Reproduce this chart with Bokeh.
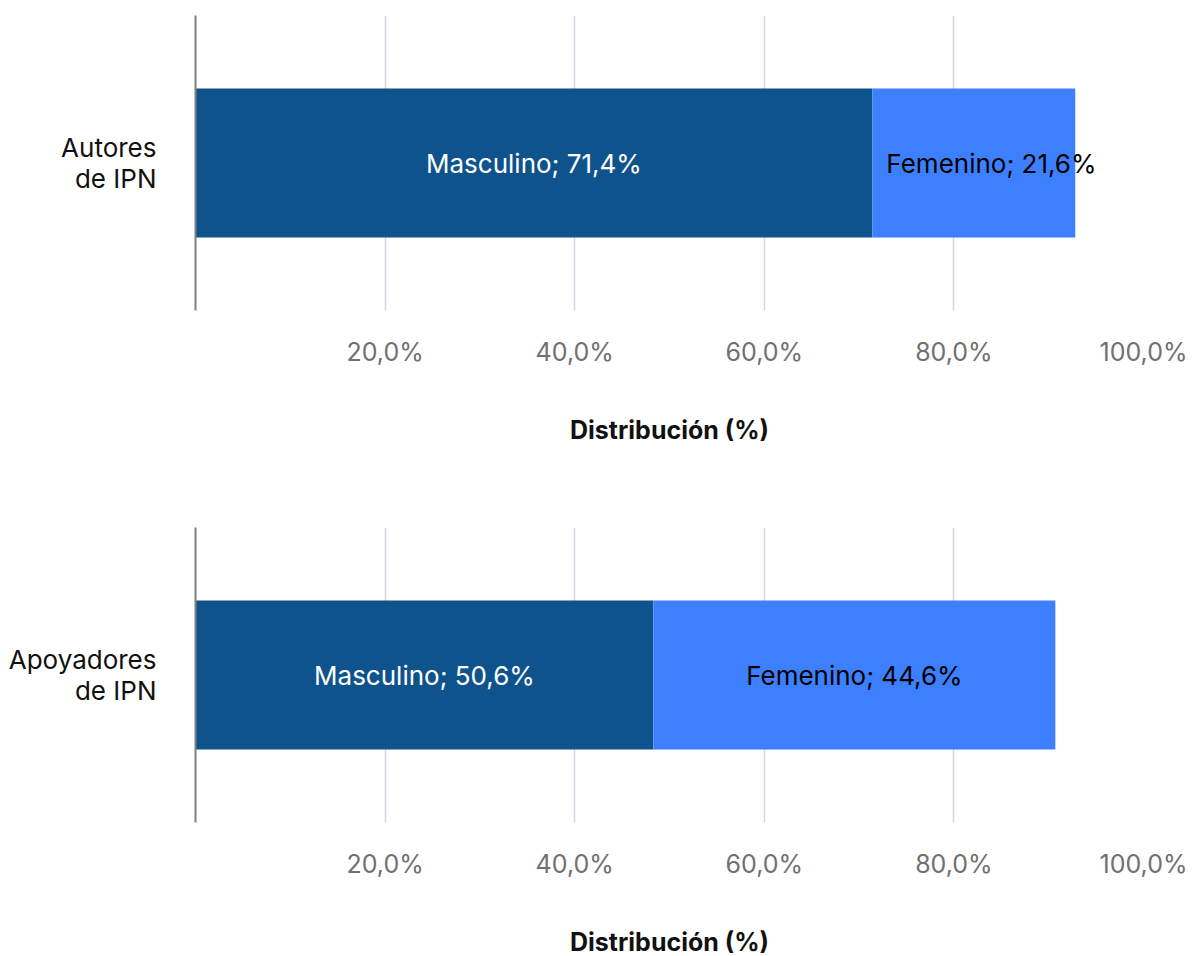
from bokeh.plotting import figure
from bokeh.layouts import column
from bokeh.models import ColumnDataSource, FixedTicker, FactorRange, Range1d
from bokeh.core.properties import value
from bokeh.embed import file_html
from bokeh.resources import INLINE

# ---- data ----
groups = ["Autores\nde IPN", "Apoyadores\nde IPN"]
masc_bar = [71.4, 48.3]          # bar lengths as drawn (%)
fem_bar = [21.4, 42.4]
masc_labels = ["Masculino; 71,4%", "Masculino; 50,6%"]
fem_labels = ["Femenino; 21,6%", "Femenino; 44,6%"]
tick_values = [20, 40, 60, 80, 100]
tick_labels = ["20,0%", "40,0%", "60,0%", "80,0%", "100,0%"]
axis_title = "Distribución (%)"

DARK = "#0F538C"
LIGHT = "#3D80FF"
FONT = "Inter"


def make_panel(i, height, title_standoff):
    g = groups[i]
    p = figure(
        width=1192, height=height,
        x_range=Range1d(0, 100), y_range=FactorRange(factors=[g]),
        output_backend="svg", toolbar_location=None,
        min_border_left=195, min_border_right=49, min_border_top=15,
        min_border_bottom=height - 15 - 295,
    )
    p.frame_height = 295
    p.frame_width = 948
    p.outline_line_color = None
    p.background_fill_color = "white"

    narrow = fem_bar[i] < 30
    src = ColumnDataSource(dict(
        y=[g], m0=[0], m1=[masc_bar[i]], f1=[masc_bar[i] + fem_bar[i]],
        mc=[masc_bar[i] / 2],
        fc=[masc_bar[i] if narrow else masc_bar[i] + fem_bar[i] / 2],
        ml=[masc_labels[i]], fl=[fem_labels[i]],
    ))
    p.hbar(y="y", left="m0", right="m1", height=0.505, source=src,
           fill_color=DARK, line_color=None)
    p.hbar(y="y", left="m1", right="f1", height=0.505, source=src,
           fill_color=LIGHT, line_color=None)
    p.text(x="mc", y="y", text="ml", source=src, text_color="white",
           text_font=value(FONT), text_font_size="26px",
           text_align="center", text_baseline="middle")
    p.text(x="fc", y="y", text="fl", source=src, text_color="black",
           text_font=value(FONT), text_font_size="26px",
           text_align="left" if narrow else "center",
           x_offset=14 if narrow else 0,
           text_baseline="middle")

    # x axis
    xa = p.xaxis[0]
    xa.ticker = FixedTicker(ticks=tick_values)
    xa.major_label_overrides = {v: t for v, t in zip(tick_values, tick_labels)}
    xa.axis_line_color = None
    xa.major_tick_line_color = None
    xa.minor_tick_line_color = None
    xa.major_tick_out = 0
    xa.major_label_standoff = 26
    xa.major_label_text_font = FONT
    xa.major_label_text_font_size = "25px"
    xa.major_label_text_color = "#707070"
    xa.axis_label = axis_title
    xa.axis_label_text_font = FONT
    xa.axis_label_text_font_style = "bold"
    xa.axis_label_text_font_size = "25px"
    xa.axis_label_text_color = "#111111"
    xa.axis_label_standoff = title_standoff

    # y axis
    ya = p.yaxis[0]
    ya.axis_line_color = "#808080"
    ya.axis_line_width = 2
    ya.major_tick_line_color = None
    ya.minor_tick_line_color = None
    ya.major_tick_out = 0
    ya.major_label_standoff = 39
    ya.major_label_text_font = FONT
    ya.major_label_text_font_size = "26px"
    ya.major_label_text_color = "#111111"
    ya.major_label_text_line_height = 1.0

    p.xgrid.grid_line_color = "#D3D6E3"
    p.xgrid.grid_line_width = 1.5
    p.xgrid.ticker = FixedTicker(ticks=tick_values)
    p.ygrid.grid_line_color = None
    return p


p1 = make_panel(0, 512, 45)
p2 = make_panel(1, 444, 45)
layout = column(p1, p2, spacing=0)

open("out.html", "w").write(file_html(layout, INLINE))
